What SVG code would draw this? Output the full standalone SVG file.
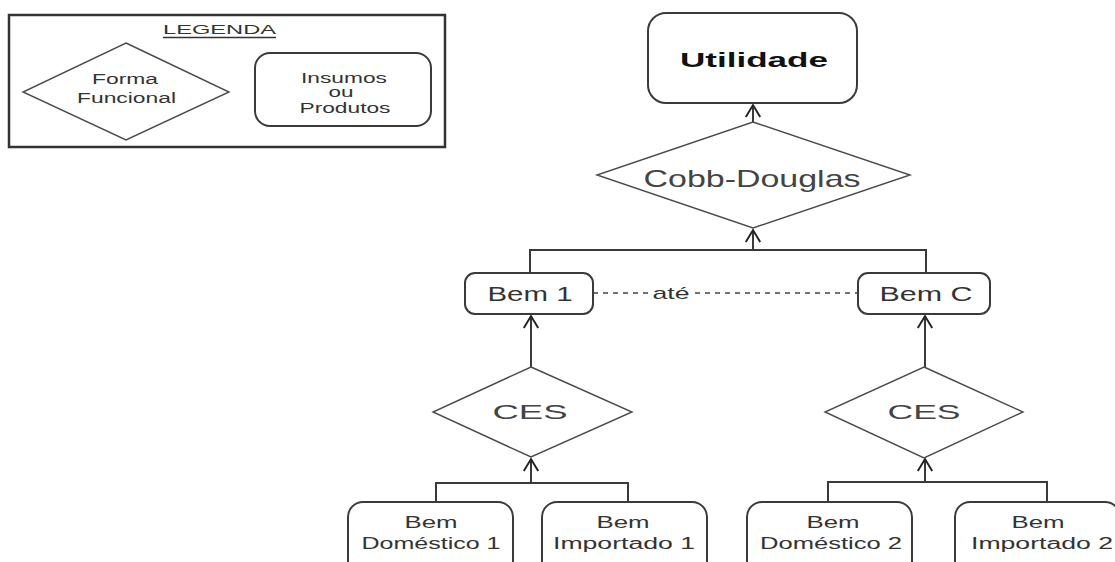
<svg xmlns="http://www.w3.org/2000/svg" width="1115" height="562" viewBox="0 0 1115 562">
<style>
text{font-family:"Liberation Sans",Arial,sans-serif;fill:#333;text-anchor:middle}
.box{fill:#fff;stroke:#3a3a3a;stroke-width:2}
.dia{fill:#fff;stroke:#4a4a4a;stroke-width:1.4}
.con{fill:none;stroke:#3a3a3a;stroke-width:2}
.dash{fill:none;stroke:#444;stroke-width:1.6;stroke-dasharray:5 5}
</style>
<defs>
<marker id="arr" markerUnits="userSpaceOnUse" markerWidth="24" markerHeight="24" viewBox="-14 -10 16 20" refX="0" refY="0" orient="auto">
<path d="M-10,-6 L0,0 L-10,6" fill="none" stroke="#222" stroke-width="1.6"/>
</marker>
</defs>
<rect width="1115" height="562" fill="#fff"/>
<g id="legend">
<rect x="9" y="15" width="436" height="132" fill="#fff" stroke="#333" stroke-width="2.5"/>
<text x="219.5" y="34" font-size="13" textLength="113" lengthAdjust="spacingAndGlyphs">LEGENDA</text>
<line x1="163" y1="37.5" x2="276" y2="37.5" stroke="#333" stroke-width="1.3"/>
<polygon class="dia" points="126,43 229,92 126,140 23,92"/>
<text x="125" y="84" font-size="14" textLength="66" lengthAdjust="spacingAndGlyphs">Forma</text>
<text x="126.5" y="103" font-size="14" textLength="99" lengthAdjust="spacingAndGlyphs">Funcional</text>
<rect class="box" x="255" y="53" width="176" height="73" rx="15"/>
<text x="344" y="83" font-size="14" textLength="86" lengthAdjust="spacingAndGlyphs">Insumos</text>
<text x="341" y="97" font-size="14" textLength="25" lengthAdjust="spacingAndGlyphs">ou</text>
<text x="345" y="113" font-size="14" textLength="91" lengthAdjust="spacingAndGlyphs">Produtos</text>
</g>
<g id="connectors">
<path class="con" d="M753,122 V105" marker-end="url(#arr)"/>
<path class="con" d="M530,273 V250 H926 V273"/>
<path class="con" d="M753,250 V230" marker-end="url(#arr)"/>
<path class="con" d="M531,367 V316" marker-end="url(#arr)"/>
<path class="con" d="M925,367 V316" marker-end="url(#arr)"/>
<path class="con" d="M436,502 V483 H628 V502"/>
<path class="con" d="M531,483 V459" marker-end="url(#arr)"/>
<path class="con" d="M828,502 V482 H1047 V502"/>
<path class="con" d="M925,482 V459" marker-end="url(#arr)"/>
<path class="dash" d="M593,293 H648"/>
<path class="dash" d="M695,293 H858"/>
<text x="671" y="299" font-size="17" textLength="37" lengthAdjust="spacingAndGlyphs">até</text>
</g>
<g id="utilidade">
<rect class="box" x="648" y="13" width="209" height="90" rx="18"/>
<text x="754" y="67" font-size="21" font-weight="bold" textLength="148" lengthAdjust="spacingAndGlyphs" style="fill:#111">Utilidade</text>
</g>
<g id="cobb-douglas">
<polygon class="dia" points="753,122 910,175 753,228 597,175"/>
<text x="752" y="187" font-size="24" textLength="217" lengthAdjust="spacingAndGlyphs" style="fill:#444">Cobb-Douglas</text>
</g>
<g id="bem1">
<rect class="box" x="465" y="273" width="128" height="41" rx="10"/>
<text x="530" y="301" font-size="20" textLength="85" lengthAdjust="spacingAndGlyphs">Bem 1</text>
</g>
<g id="bemC">
<rect class="box" x="858" y="273" width="132" height="41" rx="10"/>
<text x="926" y="301" font-size="20" textLength="93" lengthAdjust="spacingAndGlyphs">Bem C</text>
</g>
<g id="ces1">
<polygon class="dia" points="531,367 632,412 531,457 433,412"/>
<text x="530" y="419" font-size="21" textLength="75" lengthAdjust="spacingAndGlyphs" style="fill:#444">CES</text>
</g>
<g id="ces2">
<polygon class="dia" points="924,367 1023,412 924,458 825,412"/>
<text x="924" y="419" font-size="21" textLength="73" lengthAdjust="spacingAndGlyphs" style="fill:#444">CES</text>
</g>
<g id="domestico1">
<rect class="box" x="348" y="502" width="165" height="80" rx="15"/>
<text x="431" y="528" font-size="16" textLength="53" lengthAdjust="spacingAndGlyphs">Bem</text>
<text x="431" y="549" font-size="16" textLength="139" lengthAdjust="spacingAndGlyphs">Doméstico 1</text>
</g>
<g id="importado1">
<rect class="box" x="542" y="502" width="165" height="80" rx="15"/>
<text x="623" y="528" font-size="16" textLength="53" lengthAdjust="spacingAndGlyphs">Bem</text>
<text x="624" y="549" font-size="16" textLength="142" lengthAdjust="spacingAndGlyphs">Importado 1</text>
</g>
<g id="domestico2">
<rect class="box" x="747" y="502" width="165" height="80" rx="15"/>
<text x="833" y="528" font-size="16" textLength="53" lengthAdjust="spacingAndGlyphs">Bem</text>
<text x="831" y="549" font-size="16" textLength="142" lengthAdjust="spacingAndGlyphs">Doméstico 2</text>
</g>
<g id="importado2">
<rect class="box" x="955" y="502" width="165" height="80" rx="15"/>
<text x="1038" y="528" font-size="16" textLength="53" lengthAdjust="spacingAndGlyphs">Bem</text>
<text x="1042" y="549" font-size="16" textLength="142" lengthAdjust="spacingAndGlyphs">Importado 2</text>
</g>
</svg>
